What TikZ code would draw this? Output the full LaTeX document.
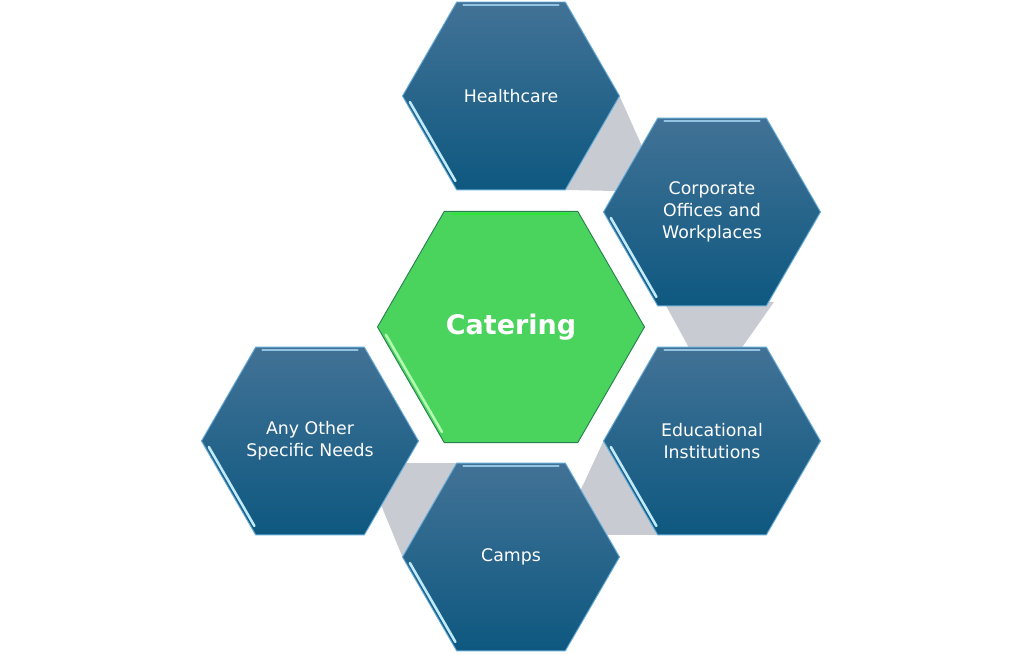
\documentclass[tikz,border=0pt]{standalone}
\usepackage{fontspec}
\setmainfont{DejaVu Sans}
\usetikzlibrary{shapes.geometric,calc,backgrounds}
\definecolor{hextop}{RGB}{66,114,150}
\definecolor{hexmid}{RGB}{26,94,134}
\definecolor{hexbot}{RGB}{14,88,128}
\definecolor{hexedge}{RGB}{100,170,215}
\definecolor{catgreen}{RGB}{74,212,94}
\definecolor{catedge}{RGB}{40,130,80}
\definecolor{linkgray}{RGB}{200,204,210}
\begin{document}
\begin{tikzpicture}[x=0.3mm,y=-0.3mm,
    hexbase/.style={regular polygon,regular polygon sides=6,
      inner sep=0pt,outer sep=0pt,align=center,text=white,line width=0.8pt},
    hex/.style={hexbase,minimum size=65.1mm,draw=hexedge,top color=hextop,
      middle color=hexmid,bottom color=hexbot,font=\fontsize{14.8}{18.7}\selectfont},
    core/.style={hexbase,minimum size=80.1mm,draw=catedge,fill=catgreen,
      font=\bfseries\fontsize{23}{27}\selectfont},
    link/.style={fill=linkgray,draw=none},
    bevel/.style={draw=cyan!25!white,line width=2.2pt,line cap=round},
    topbevel/.style={draw=hexedge!70!white,line width=1.6pt,line cap=round}]
  \useasboundingbox (0,0) rectangle (1024,655);
  \node[core] (cater) at (511,327) {Catering};
  \node[hex] (heal) at (511,96) {Healthcare};
  \node[hex] (corp) at (712,212) {Corporate\\Offices and\\Workplaces};
  \node[hex] (edu) at (712,441) {Educational\\Institutions};
  \node[hex] (camp) at (511,557) {Camps};
  \node[hex] (other) at (310,441) {Any Other\\Specific Needs};
  \begin{scope}[on background layer]
    \fill[link] (heal.0) -- ($(corp.180)+(59,-20)$) -- (heal.300) -- cycle;
    \fill[link] ($(corp)+(-48,90)$) -- ($(corp)+(62,90)$) -- ($(edu)+(0,-51)$) -- cycle;
    \fill[link] (edu.180) -- (edu.240) -- ($(edu.240)+(-98,0)$) -- cycle;
    \fill[link] (camp.180) -- (camp.120) -- ($(camp.120)+(-93,0)$) -- cycle;
  \end{scope}
  \foreach \h in {heal,corp,edu,camp,other}{
    \draw[bevel] ($(\h.180)!0.08!(\h.240)+(3,-1.5)$) -- ($(\h.180)!0.92!(\h.240)+(3,-1.5)$);
    \draw[topbevel] ($(\h.120)!0.06!(\h.60)+(0,3)$) -- ($(\h.120)!0.94!(\h.60)+(0,3)$);
  }
  \draw[bevel,draw=green!30!white] ($(cater.180)!0.08!(cater.240)+(3,-1.5)$) -- ($(cater.180)!0.92!(cater.240)+(3,-1.5)$);
  \draw[topbevel,draw=green!40!catgreen] ($(cater.120)!0.06!(cater.60)+(0,3)$) -- ($(cater.120)!0.94!(cater.60)+(0,3)$);
\end{tikzpicture}
\end{document}
